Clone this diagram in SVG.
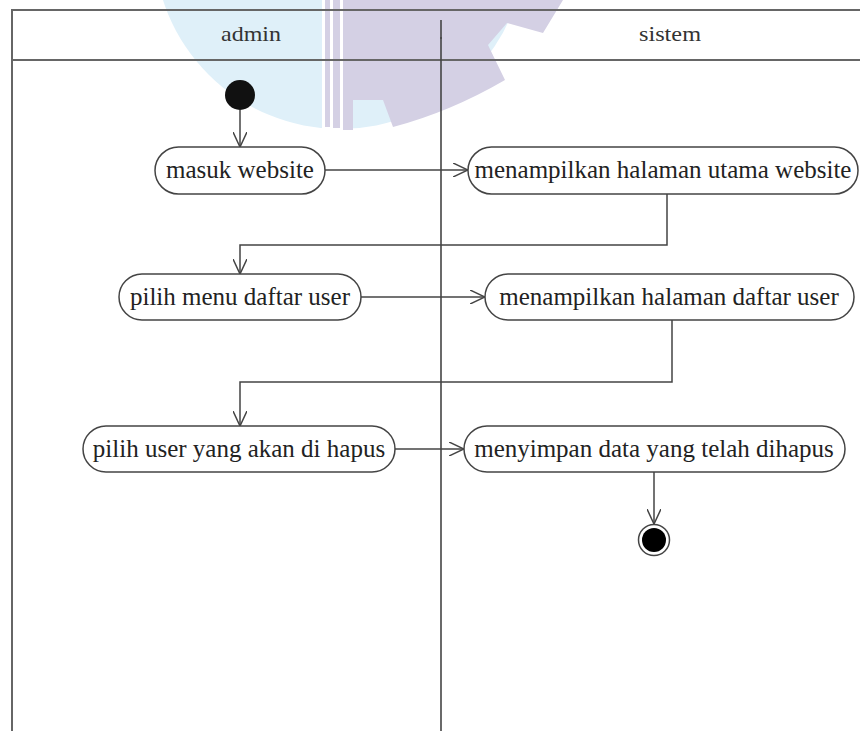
<svg xmlns="http://www.w3.org/2000/svg" width="860" height="731" viewBox="0 0 860 731">
<style>
.frame{stroke:#666;stroke-width:2;fill:none}
.lane{stroke:#444;stroke-width:1.6;fill:none}
.act{fill:#fff;stroke:#444;stroke-width:1.5}
.lbl{font-family:"Liberation Serif","Times New Roman",serif;font-size:25px;fill:#222;text-anchor:middle}
.hdr{font-family:"Liberation Serif","Times New Roman",serif;font-size:21px;fill:#333;text-anchor:middle}
.edge{stroke:#444;stroke-width:1.5;fill:none;marker-end:url(#arr)}
</style>
<defs>
<marker id="arr" viewBox="0 0 16 14" refX="15" refY="7" markerWidth="16" markerHeight="14" markerUnits="userSpaceOnUse" orient="auto">
<path d="M0,0 L15,7 L0,14" fill="none" stroke="#444" stroke-width="1.5"/>
</marker>
</defs>
<rect width="860" height="731" fill="#fff"/>
<g id="watermark">
<circle cx="340" cy="-57" r="186" fill="#dff0f9"/>
<path d="M350,0 L563,0 L543,33 L507,23 L488,45 L505,80 Q450,112 393,127 L383,100 L353,100 L353,130 L350,130 Z" fill="#d4d0e4"/>
<rect x="322" y="0" width="28" height="130" fill="#fff"/>
<rect x="325" y="0" width="5" height="127" fill="#d4d0e4"/>
<rect x="333" y="0" width="7" height="128" fill="#d4d0e4"/>
<rect x="343" y="0" width="7" height="130" fill="#d4d0e4"/>
</g>
<g id="swimlanes">
<path class="frame" d="M12,731 L12,10 L860,10 M12,60 L860,60"/>
<path class="lane" d="M441,20 L441,731"/>
<circle cx="441" cy="38" r="1" fill="#444"/>
<text class="hdr" x="251" y="41" textLength="60" lengthAdjust="spacingAndGlyphs">admin</text>
<text class="hdr" x="670" y="41" textLength="62" lengthAdjust="spacingAndGlyphs">sistem</text>
</g>
<g id="connectors">
<path class="edge" d="M240,110 L240,147"/>
<path class="edge" d="M325,170 L468,170"/>
<path class="edge" d="M667,194 L667,245 L240,245 L240,274"/>
<path class="edge" d="M361,297 L485,297"/>
<path class="edge" d="M672,320 L672,382 L240,382 L240,426"/>
<path class="edge" d="M395,449 L464,449"/>
<path class="edge" d="M654,472 L654,524"/>
</g>
<g id="start"><circle cx="240" cy="95" r="15" fill="#111"/></g>
<g id="a1"><rect class="act" x="155" y="147" width="170" height="47" rx="23.5"/><text class="lbl" x="240" y="178">masuk website</text></g>
<g id="a2"><rect class="act" x="468" y="147" width="390" height="47" rx="23.5"/><text class="lbl" x="663" y="178">menampilkan halaman utama website</text></g>
<g id="a3"><rect class="act" x="119" y="274" width="242" height="46" rx="23"/><text class="lbl" x="240" y="305">pilih menu daftar user</text></g>
<g id="a4"><rect class="act" x="485" y="274" width="369" height="46" rx="23"/><text class="lbl" x="669" y="305">menampilkan halaman daftar user</text></g>
<g id="a5"><rect class="act" x="83" y="426" width="312" height="46" rx="23"/><text class="lbl" x="239" y="457">pilih user yang akan di hapus</text></g>
<g id="a6"><rect class="act" x="464" y="426" width="381" height="46" rx="23"/><text class="lbl" x="654" y="457">menyimpan data yang telah dihapus</text></g>
<g id="end"><circle cx="654" cy="540" r="15.5" fill="#fff" stroke="#444" stroke-width="1.5"/><circle cx="654" cy="540" r="12" fill="#000"/></g>
</svg>
